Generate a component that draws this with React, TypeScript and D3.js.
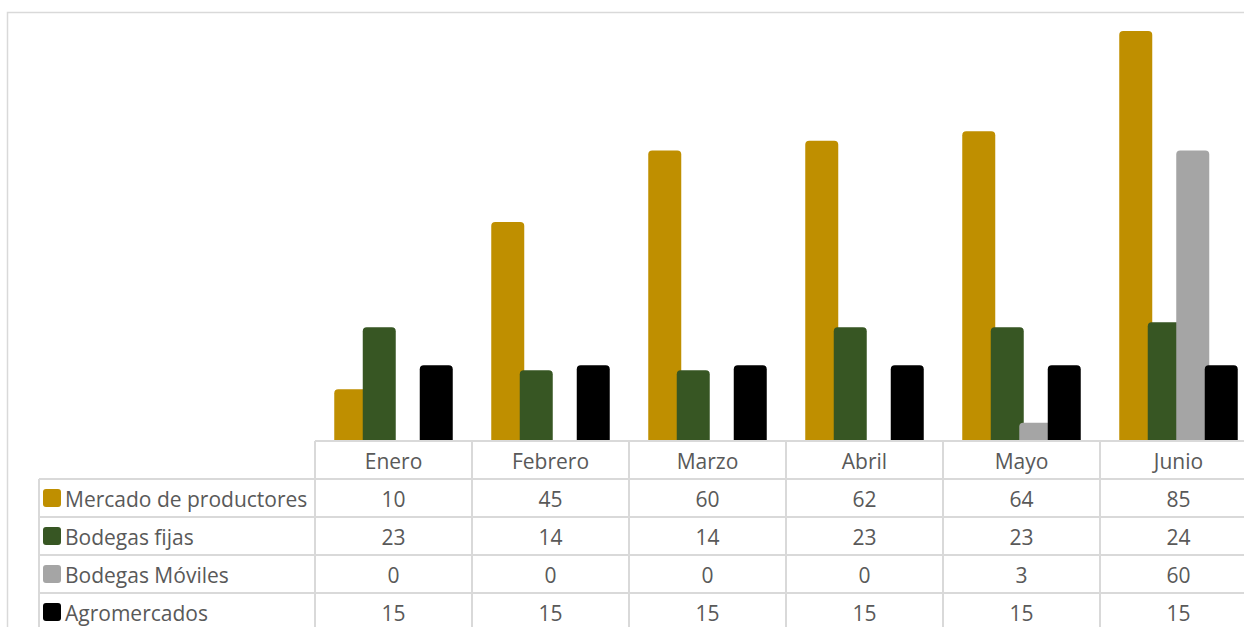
import { scaleBand, scaleLinear } from "d3";

const months = ["Enero", "Febrero", "Marzo", "Abril", "Mayo", "Junio"];
const seriesNames = [
  "Mercado de productores",
  "Bodegas fijas",
  "Bodegas Móviles",
  "Agromercados",
];
const mercado = [10, 45, 60, 62, 64, 85];
const bodegasFijas = [23, 14, 14, 23, 23, 24];
const bodegasMoviles = [0, 0, 0, 0, 3, 60];
const agromercados = [15, 15, 15, 15, 15, 15];
const colors = ["#BF8F00", "#375623", "#A5A5A5", "#000000"];

const series = [mercado, bodegasFijas, bodegasMoviles, agromercados];

const W = 1244;
const H = 627;
const plotLeft = 315;
const catW = 157;
const tableTop = 441;
const rowH = 38;
const zeroY = 437;
const grid = "#d9d9d9";
const textColor = "#595959";
const font = "'Open Sans', Lato, sans-serif";

export default function App() {
  const x = scaleBand<string>()
    .domain(months)
    .range([plotLeft, plotLeft + catW * months.length]);
  const y = scaleLinear().domain([0, 85]).range([zeroY, 31]);

  const barW = 33;
  const step = 28.5;
  const groupW = step * (series.length - 1) + barW;
  const r = 4;

  const barPath = (x0: number, top: number, bottom: number) => {
    const rr = Math.min(r, (bottom - top) / 2);
    return `M${x0},${bottom} V${top + rr} Q${x0},${top} ${x0 + rr},${top} H${
      x0 + barW - rr
    } Q${x0 + barW},${top} ${x0 + barW},${top + rr} V${bottom} Z`;
  };

  return (
    <svg
      width={W}
      height={H}
      style={{ position: "absolute", left: 0, top: 0, background: "#fff" }}
    >
      <rect x={7.5} y={12.5} width={1260} height={640} fill="#fff" stroke={grid} strokeWidth={1.5} />

      {/* Bars */}
      {series.map((vals, si) =>
        vals.map((v, ci) => {
          if (v === 0) return null;
          const cx = (x(months[ci]) ?? 0) + x.bandwidth() / 2;
          const x0 = cx - groupW / 2 + si * step;
          return (
            <path
              key={`${si}-${ci}`}
              d={barPath(x0, y(v), tableTop + 1)}
              fill={colors[si]}
            />
          );
        })
      )}

      {/* Data table */}
      <g stroke={grid} strokeWidth={2}>
        <line x1={plotLeft} x2={W} y1={tableTop} y2={tableTop} />
        {seriesNames.map((_, i) => (
          <line
            key={i}
            x1={39}
            x2={W}
            y1={tableTop + rowH * (i + 1)}
            y2={tableTop + rowH * (i + 1)}
          />
        ))}
        <line x1={39} x2={39} y1={tableTop + rowH} y2={H} />
        {months.map((m) => (
          <line key={m} x1={x(m)} x2={x(m)} y1={tableTop} y2={H} />
        ))}
      </g>

      <g fontFamily={font} fontSize={21} fill={textColor}>
        {months.map((m) => (
          <text
            key={m}
            x={(x(m) ?? 0) + x.bandwidth() / 2}
            y={tableTop + rowH / 2 + 1.5}
            dy="0.35em"
            textAnchor="middle"
          >
            {m}
          </text>
        ))}
        {seriesNames.map((name, si) => {
          const cy = tableTop + rowH * (si + 1) + rowH / 2;
          return (
            <g key={name}>
              <rect x={43} y={cy - 9} width={18} height={18} rx={3} fill={colors[si]} />
              <text x={65} y={cy + 1.5} dy="0.35em">
                {name}
              </text>
              {series[si].map((v, ci) => (
                <text
                  key={ci}
                  x={(x(months[ci]) ?? 0) + x.bandwidth() / 2}
                  y={cy + 1.5}
                  dy="0.35em"
                  textAnchor="middle"
                >
                  {v}
                </text>
              ))}
            </g>
          );
        })}
      </g>
    </svg>
  );
}
